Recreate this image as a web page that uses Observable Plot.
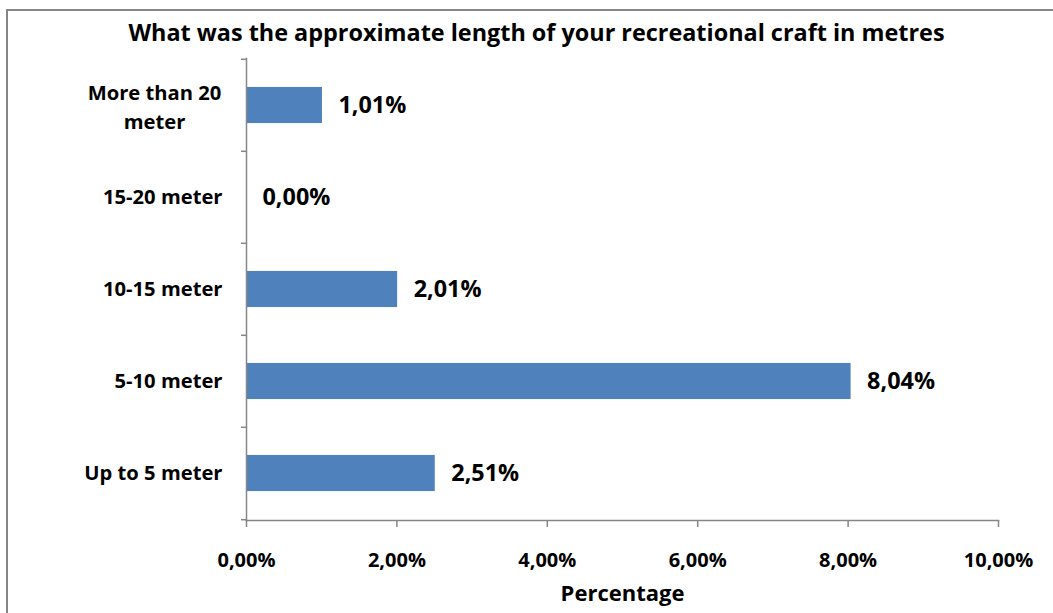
<!DOCTYPE html>
<html>
<head>
<meta charset="utf-8">
<script src="https://cdn.jsdelivr.net/npm/d3@7"></script>
<script src="https://cdn.jsdelivr.net/npm/@observablehq/plot@0.6"></script>
<style>
  html, body { margin: 0; padding: 0; background: #fff; overflow: hidden; }
  #wrap { position: relative; width: 1053px; height: 613px; overflow: hidden; font-family: "Open Sans", sans-serif; }
  #border { position: absolute; left: 6px; top: 9px; width: 1200px; height: 800px; border: 2px solid #868686; box-sizing: border-box; }
  #title { position: absolute; left: 0; width: 1073px; top: 16px; text-align: center; font-weight: bold; font-size: 23.4px; line-height: normal; color: #000; white-space: nowrap; }
  #chart { position: absolute; left: 0; top: 0; }
</style>
</head>
<body>
<div id="wrap">
  <div id="border"></div>
  <div id="chart"></div>
  <div id="title">What was the approximate length of your recreational craft in metres</div>
</div>
<script>
const categories = ["Up to 5 meter", "5-10 meter", "10-15 meter", "15-20 meter", "More than 20 meter"];
const values = [2.51, 8.04, 2.01, 0.00, 1.01];
const xTicks = [0, 2, 4, 6, 8, 10];
const xLabel = "Percentage";

const data = categories.map((c, i) => ({category: c, value: values[i]}));
const yDomain = categories.slice().reverse();
const fmt = v => v.toFixed(2).replace(".", ",") + "%";
const wrapped = "More than 20 meter";

const W = 1053, H = 613;
const mTop = 58, mBottom = 93, mLeft = 246, mRight = 55;
const step = (H - mTop - mBottom) / categories.length;
const barH = 36.5;
const gray = "#868686";

const chart = Plot.plot({
  width: W,
  height: H,
  marginTop: mTop,
  marginBottom: mBottom,
  marginLeft: mLeft,
  marginRight: mRight,
  style: {fontFamily: "'Open Sans', sans-serif", fontWeight: "bold", fontSize: "20px", color: "#000", background: "transparent"},
  x: {domain: [0, 10], ticks: xTicks, label: null},
  y: {domain: yDomain, padding: 0, label: null},
  marks: [
    Plot.barX(data, {x: "value", y: "category", fill: "#4F81BD", insetTop: (step - barH) / 2, insetBottom: (step - barH) / 2}),
    Plot.text(data, {x: "value", y: "category", text: d => fmt(d.value), textAnchor: "start", dx: 16, fontSize: 23.4, fontWeight: "bold", fill: "#000"}),
    // axis lines
    Plot.frame({anchor: "left", stroke: gray, strokeWidth: 1.5}),
    Plot.frame({anchor: "bottom", stroke: gray, strokeWidth: 1.5}),
    // y tick marks at category boundaries
    Plot.axisY({tickSize: 5, text: null, dy: -step / 2, stroke: gray, strokeWidth: 1.5, label: null}),
    Plot.axisY({ticks: [categories[0]], tickSize: 5, text: null, dy: step / 2, stroke: gray, strokeWidth: 1.5, label: null}),
    // y labels
    Plot.axisY({ticks: categories.filter(c => c !== wrapped), tickSize: 0, tickPadding: 24, fontSize: 20.2, fontWeight: "bold", fill: "#000", label: null}),
    Plot.axisY({ticks: [wrapped], tickSize: 0, tickPadding: 92, textAnchor: "middle", tickFormat: () => "More than 20\nmeter", lineHeight: 1.4, fontSize: 20.2, fontWeight: "bold", fill: "#000", label: null}),
    // x axis
    Plot.axisX({ticks: xTicks, tickSize: 7, tickPadding: 25, tickFormat: fmt, stroke: gray, strokeWidth: 1.5, fontSize: 20, fontWeight: "bold", fill: "#000", label: null}),
    Plot.text([xLabel], {frameAnchor: "bottom", dy: 80, fontSize: 22, fontWeight: "bold", fill: "#000"})
  ]
});
document.getElementById("chart").appendChild(chart);
</script>
</body>
</html>
